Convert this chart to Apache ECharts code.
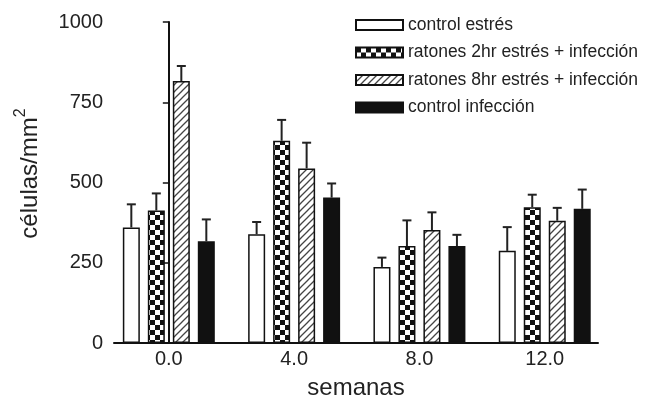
<!DOCTYPE html>
<html>
<head>
<meta charset="utf-8">
<script src="https://cdn.jsdelivr.net/npm/echarts@6/dist/echarts.min.js"></script>
<style>
  html, body { margin: 0; padding: 0; background: #fff; }
  #chart { width: 647px; height: 408px; }
</style>
</head>
<body>
<div id="chart"></div>
<script>
// weeks on the x axis
const weeks = [0, 4, 8, 12];
const groupNames = [
  "control estrés",
  "ratones 2hr estrés + infección",
  "ratones 8hr estrés + infección",
  "control infección"
];
// means (células/mm2) per group, one value per week
const controlEstres = [360, 339, 237, 287];
const ratones2hr = [413, 630, 302, 423];
const ratones8hr = [816, 544, 352, 381];
const controlInfeccion = [317, 453, 302, 418];
// upper error (SEM) per group
const errControlEstres = [72, 38, 29, 74];
const errRatones2hr = [53, 65, 80, 39];
const errRatones8hr = [47, 80, 55, 40];
const errControlInfeccion = [68, 44, 35, 60];

const means = [controlEstres, ratones2hr, ratones8hr, controlInfeccion];
const errors = [errControlEstres, errRatones2hr, errRatones8hr, errControlInfeccion];

const FONT = "Liberation Sans";
const BAR_W = 17;
const BAR_GAP = 8;

// small canvas tiles used as bar fills
const checkerTile = () => {
  const c = document.createElement("canvas");
  c.width = 10;
  c.height = 10;
  const g = c.getContext("2d");
  g.fillStyle = "#fff";
  g.fillRect(0, 0, 10, 10);
  g.fillStyle = "#111";
  g.fillRect(0, 0, 5, 5);
  g.fillRect(5, 5, 5, 5);
  return c;
};

const hatchTile = () => {
  const s = 7;
  const c = document.createElement("canvas");
  c.width = s;
  c.height = s;
  const g = c.getContext("2d");
  g.fillStyle = "#fff";
  g.fillRect(0, 0, s, s);
  g.strokeStyle = "#444";
  g.lineWidth = 1.3;
  g.beginPath();
  g.moveTo(-1, s + 1);
  g.lineTo(s + 1, -1);
  g.moveTo(-1, 1);
  g.lineTo(1, -1);
  g.moveTo(s - 1, s + 1);
  g.lineTo(s + 1, s - 1);
  g.stroke();
  return c;
};

const fills = [
  "#ffffff",
  { image: checkerTile(), repeat: "repeat" },
  { image: hatchTile(), repeat: "repeat" },
  "#111111"
];

const chart = echarts.init(document.getElementById("chart"), null, { renderer: "canvas" });

const barSeries = groupNames.map((name, i) => ({
  name: name,
  type: "bar",
  barWidth: BAR_W,
  barGap: (BAR_GAP / BAR_W * 100).toFixed(0) + "%",
  itemStyle: {
    color: fills[i],
    borderColor: "#111",
    borderWidth: 1.5
  },
  z: 3,
  data: weeks.map((w, k) => [w, means[i][k]])
}));

const errorData = [];
groupNames.forEach((_, i) => {
  weeks.forEach((w, k) => {
    errorData.push([w, means[i][k], means[i][k] + errors[i][k], i]);
  });
});

const errorSeries = {
  type: "custom",
  silent: true,
  z: 2,
  clip: false,
  data: errorData,
  renderItem: (params, api) => {
    const idx = api.value(3);
    const offset = (idx - 1.5) * (BAR_W + BAR_GAP);
    const base = api.coord([api.value(0), api.value(1)]);
    const top = api.coord([api.value(0), api.value(2)]);
    const x = base[0] + offset;
    const style = { stroke: "#222", lineWidth: 2 };
    return {
      type: "group",
      children: [
        { type: "line", shape: { x1: x, y1: base[1], x2: x, y2: top[1] }, style: style },
        { type: "line", shape: { x1: x - 4.5, y1: top[1], x2: x + 4.5, y2: top[1] }, style: style }
      ]
    };
  }
};

const option = {
  animation: false,
  backgroundColor: "#fff",
  textStyle: { fontFamily: FONT },
  grid: { left: 114, right: 49, top: 22, bottom: 65 },
  legend: {
    orient: "vertical",
    left: 350,
    top: 10,
    itemWidth: 47,
    itemHeight: 10,
    itemGap: 7.5,
    itemTextGap: 6,
    icon: "rect",
    selectedMode: false,
    data: groupNames,
    textStyle: { fontFamily: FONT, fontSize: 17.5, color: "#222", lineHeight: 20 }
  },
  xAxis: {
    type: "value",
    min: -1.75,
    max: 13.7,
    name: "semanas",
    nameLocation: "middle",
    nameGap: 33,
    nameTextStyle: { fontFamily: FONT, fontSize: 24, color: "#222" },
    axisLine: { show: true, lineStyle: { color: "#111", width: 2 } },
    axisTick: { show: false },
    splitLine: { show: false },
    axisLabel: {
      customValues: weeks,
      formatter: (v) => v.toFixed(1),
      fontFamily: FONT,
      fontSize: 20,
      color: "#222",
      margin: 6
    }
  },
  yAxis: {
    type: "value",
    min: 0,
    max: 1000,
    interval: 250,
    name: "{b|células/mm}{s|2}",
    nameLocation: "middle",
    nameGap: 67,
    nameRotate: 90,
    nameTextStyle: {
      rich: {
        b: { fontFamily: FONT, fontSize: 24, color: "#222", lineHeight: 34, padding: [0, 0, 0, 18] },
        s: { fontFamily: FONT, fontSize: 16, color: "#222", lineHeight: 14, verticalAlign: "top" }
      }
    },
    axisLine: { show: true, lineStyle: { color: "#111", width: 2 } },
    axisTick: { show: true, length: 6, lineStyle: { color: "#111", width: 1.5 } },
    splitLine: { show: false },
    axisLabel: {
      formatter: (v) => String(v),
      fontFamily: FONT,
      fontSize: 20,
      color: "#222",
      margin: 11
    }
  },
  series: [...barSeries, errorSeries]
};

chart.setOption(option);
</script>
</body>
</html>
